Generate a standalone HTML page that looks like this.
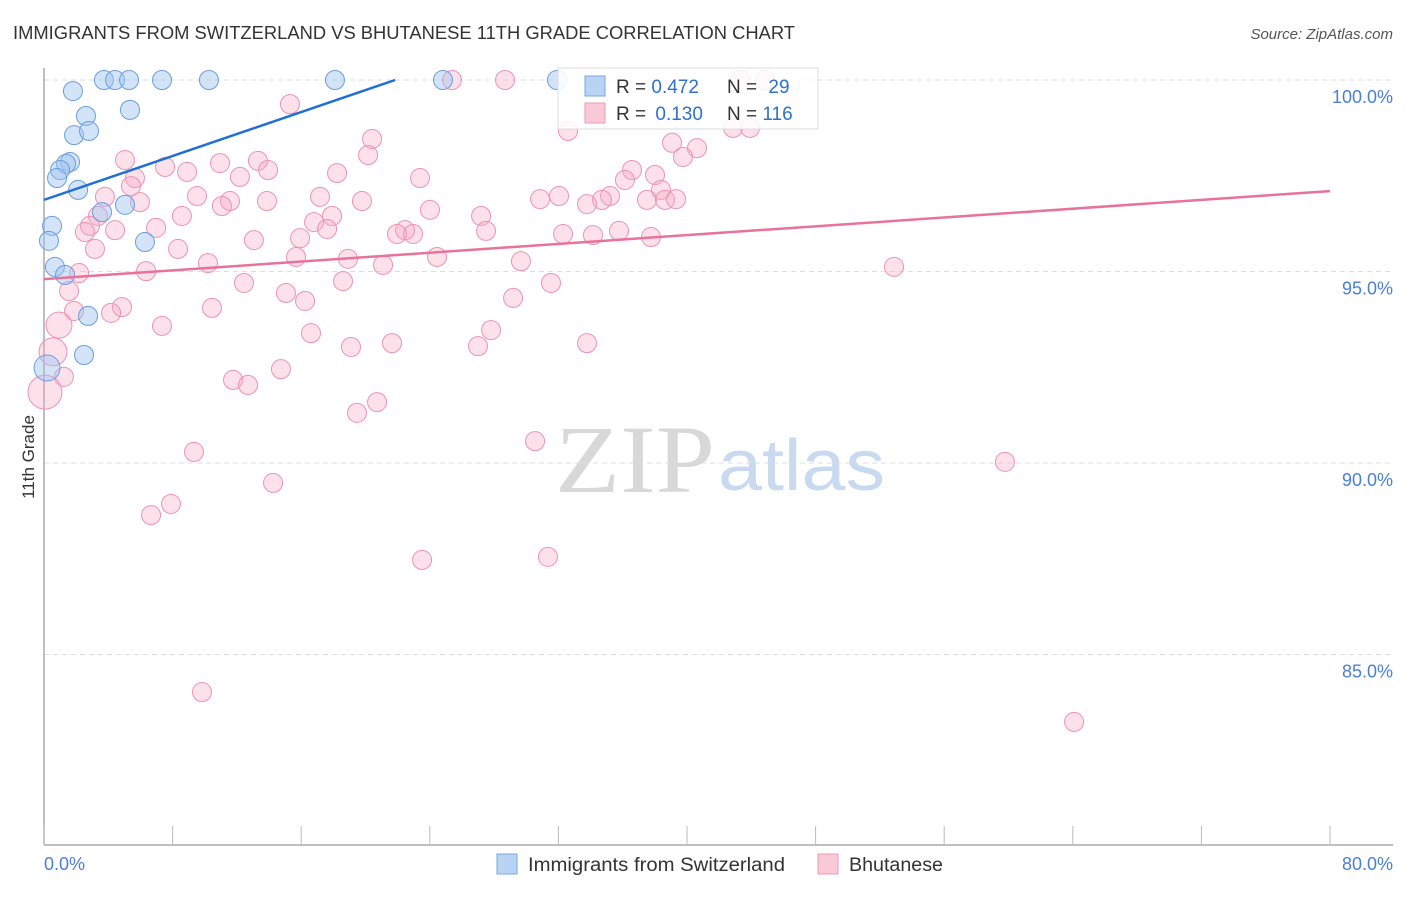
<!DOCTYPE html>
<html><head><meta charset="utf-8"><style>
body{margin:0;background:#fff;width:1406px;height:892px;overflow:hidden;font-family:"Liberation Sans",sans-serif}
</style></head><body>
<svg id="chart" width="1406" height="892" xmlns="http://www.w3.org/2000/svg" font-family="Liberation Sans, sans-serif">
<text x="13" y="39" font-size="18" fill="#333" textLength="782" lengthAdjust="spacingAndGlyphs">IMMIGRANTS FROM SWITZERLAND VS BHUTANESE 11TH GRADE CORRELATION CHART</text>
<text x="1393" y="39" font-size="15" fill="#555" text-anchor="end" font-style="italic">Source: ZipAtlas.com</text>
<text transform="translate(34,457) rotate(-90)" font-size="17" fill="#333" text-anchor="middle">11th Grade</text>
<g>
<text x="555" y="492" font-size="96" fill="#d8d8d8" font-family="Liberation Serif, serif" textLength="160" lengthAdjust="spacingAndGlyphs">ZIP</text>
<text x="718" y="490" font-size="72" fill="#c9daf0" textLength="167" lengthAdjust="spacingAndGlyphs">atlas</text>
</g>
<g id="grid"></g><g id="axes"></g><g id="pts"></g><g id="lines"></g>
<g>
<rect x="558" y="68" width="260" height="61" fill="#fff" fill-opacity="0.85" stroke="#ddd"/>
<rect x="585" y="76" width="20" height="20" fill="#b9d3f5" stroke="#7aa7e3"/>
<text x="616" y="93" font-size="19" fill="#333">R = <tspan fill="#2f6fd0">0.472</tspan></text>
<text x="727" y="93" font-size="19" fill="#333">N = <tspan fill="#2f6fd0" dx="6">29</tspan></text>
<rect x="585" y="103" width="20" height="20" fill="#f9c9d8" stroke="#ee9ab6"/>
<text x="616" y="120" font-size="19" fill="#333">R = <tspan fill="#2f6fd0" dx="4">0.130</tspan></text>
<text x="727" y="120" font-size="19" fill="#333">N = <tspan fill="#2f6fd0">116</tspan></text>
</g>
<g>
<rect x="497" y="854" width="20" height="20" fill="#b9d3f5" stroke="#7aa7e3"/>
<text x="528" y="871" font-size="19" fill="#333" textLength="257" lengthAdjust="spacingAndGlyphs">Immigrants from Switzerland</text>
<rect x="818" y="854" width="20" height="20" fill="#f9c9d8" stroke="#ee9ab6"/>
<text x="849" y="871" font-size="19" fill="#333" textLength="94" lengthAdjust="spacingAndGlyphs">Bhutanese</text>
</g>
</svg>
<script>
const yTicks=[100,95,90,85];
const yTickLabels=["100.0%","95.0%","90.0%","85.0%"];
const xTickLabels=["0.0%","80.0%"];
const blueX=[3.73,4.42,5.29,7.34,10.26,18.10,24.82,31.91,1.80,5.35,2.61,1.87,2.80,1.62,1.37,1.0,0.81,2.12,5.04,3.61,0.5,0.31,6.28,0.68,1.31,2.74,2.49,0.19];
const blueY=[100,100,100,100,100,100,100,100,99.71,99.22,99.06,98.56,98.67,97.86,97.81,97.65,97.44,97.13,96.74,96.55,96.19,95.80,95.77,95.12,94.91,93.84,92.82,92.48];
const pinkX=[25.38,28.68,43.30,44.85,15.30,32.60,20.41,42.86,43.92,40.62,39.07,20.16,5.04,39.75,10.95,13.31,7.53,8.90,13.94,12.19,18.23,36.58,23.39,36.14,5.66,5.41,38.01,38.38,3.79,9.52,13.87,17.17,11.57,11.07,19.78,30.86,32.04,35.21,34.71,33.78,37.51,38.63,39.32,5.97,24.01,8.58,3.36,17.92,27.19,16.80,17.61,2.86,2.55,4.42,6.97,22.46,21.96,22.96,27.50,32.29,34.15,35.77,37.76,15.93,13.06,8.34,3.17,15.68,18.91,24.45,29.67,10.20,21.09,6.35,2.18,52.88,12.44,18.60,31.54,1.56,15.05,16.24,29.18,4.85,10.45,4.17,1.87,0.93,7.34,16.61,27.81,19.10,21.65,27.00,33.78,0.56,14.74,1.24,11.76,12.69,20.72,19.47,30.55,9.33,59.78,14.25,7.90,6.66,23.52,31.35,9.83,64.08,0.06];
const pinkY=[100,100,100,100,99.37,98.67,98.46,98.75,98.75,98.22,98.36,98.04,97.91,97.99,97.83,97.89,97.73,97.60,97.65,97.47,97.57,97.65,97.44,97.39,97.44,97.23,97.52,97.13,96.95,96.97,96.84,96.95,96.84,96.71,96.84,96.89,96.97,96.97,96.87,96.76,96.87,96.87,96.89,96.81,96.61,96.45,96.45,96.45,96.45,96.29,96.11,96.19,96.03,96.08,96.14,96.08,95.98,95.98,96.06,95.98,95.95,96.06,95.90,95.87,95.82,95.59,95.59,95.38,95.33,95.38,95.27,95.22,95.17,95.01,94.96,95.12,94.70,94.75,94.70,94.49,94.44,94.23,94.31,94.07,94.05,93.92,93.97,93.60,93.58,93.39,93.47,93.03,93.13,93.05,93.13,92.90,92.45,92.25,92.17,92.04,91.59,91.31,90.57,90.29,90.03,89.48,88.93,88.64,87.47,87.55,84.02,83.24,91.85];
const blueTrend=[96.87,100,21.84];
const pinkTrend=[94.80,97.10];
const bigPink={87:13,95:14,112:17};
const bigBlue={27:13};

const NS="http://www.w3.org/2000/svg";
const X0=44,X1=1330,Y100=80,PX_PER_PCT=38.3;
const xs=v=>X0+(v/80)*(X1-X0);
const ys=v=>Y100+(100-v)*PX_PER_PCT;
function mk(tag,attrs,parent){const e=document.createElementNS(NS,tag);for(const k in attrs)e.setAttribute(k,attrs[k]);parent.appendChild(e);return e;}
const grid=document.getElementById('grid'),axes=document.getElementById('axes'),pts=document.getElementById('pts'),lines=document.getElementById('lines');
yTicks.forEach((t,i)=>{
  const l=mk('line',{x1:X0,x2:1393,y1:ys(t),y2:ys(t),stroke:'#ddd','stroke-dasharray':'5,4'},grid);
  
  
  const tx=mk('text',{x:1393,y:ys(t)+23,'font-size':18,fill:'#4a7fd6','text-anchor':'end'},axes);
  tx.textContent=yTickLabels[i];
  
  
});
const ya=mk('line',{x1:X0,x2:X0,y1:68,y2:845,stroke:'#aaa','stroke-width':1.5},axes);


const xa=mk('line',{x1:X0,x2:1393,y1:845,y2:845,stroke:'#aaa','stroke-width':1.5},axes);


for(let i=0;i<=10;i++){
  const t=mk('line',{x1:xs(i*8),x2:xs(i*8),y1:826,y2:845,stroke:'#bbb'},axes);
  
  
}
const xl0=mk('text',{x:X0,y:870,'font-size':18,fill:'#4a7fd6'},axes);xl0.textContent=xTickLabels[0];


const xl1=mk('text',{x:1393,y:870,'font-size':18,fill:'#4a7fd6','text-anchor':'end'},axes);xl1.textContent=xTickLabels[1];


pinkX.forEach((v,i)=>{
  const c=mk('circle',{cx:xs(v),cy:ys(pinkY[i]),r:bigPink[i]||9.5,fill:'rgba(246,170,196,0.35)',stroke:'#ec93b3','stroke-width':1},pts);
  
  
});
blueX.forEach((v,i)=>{
  const c=mk('circle',{cx:xs(v),cy:ys(blueY[i]),r:bigBlue[i]||9.5,fill:'rgba(160,196,240,0.45)',stroke:'#6a9ee0','stroke-width':1},pts);
  
  
});
const bl=mk('line',{x1:xs(0),y1:ys(blueTrend[0]),x2:xs(blueTrend[2]),y2:ys(blueTrend[1]),stroke:'#1f6fd6','stroke-width':2.5},lines);


const pl=mk('line',{x1:xs(0),y1:ys(pinkTrend[0]),x2:xs(80),y2:ys(pinkTrend[1]),stroke:'#e8729a','stroke-width':2.5},lines);


</script>
</body></html>
